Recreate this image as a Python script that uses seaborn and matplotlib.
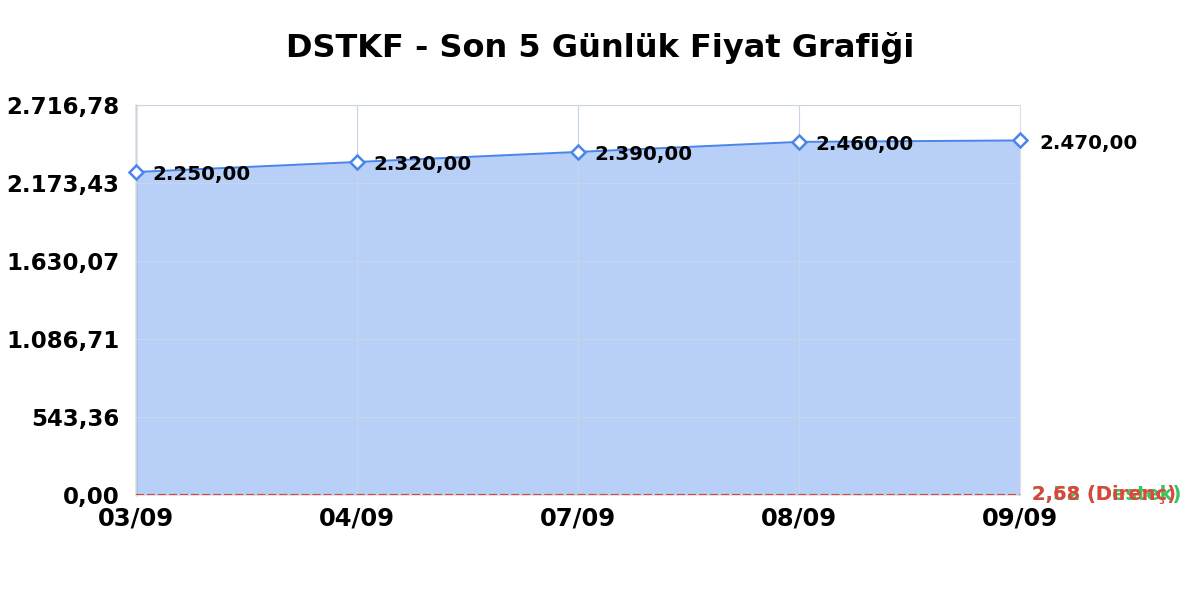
import numpy as np
import pandas as pd
import seaborn as sns
import matplotlib.pyplot as plt

# Price data (last 5 days)
dates = ['03/09', '04/09', '07/09', '08/09', '09/09']
prices = [2250.00, 2320.00, 2390.00, 2460.00, 2470.00]
support = 2.52
resistance = 2.68
y_top = 2716.785


def tr_fmt(v):
    s = f'{v:,.2f}'
    return s.replace(',', 'X').replace('.', ',').replace('X', '.')


df = pd.DataFrame({'idx': range(len(dates)), 'price': prices})

sns.set_style('white')
plt.rcParams['font.family'] = ['DejaVu Sans']
plt.rcParams['text.color'] = 'black'

fig = plt.figure(figsize=(12, 6), dpi=100)
ax = fig.add_axes([0.1133, 0.175, 0.7367, 0.65])

ticks = np.linspace(0, y_top, 6)

ax.fill_between(df['idx'], df['price'], 0, color='#b8d0f8', zorder=1)
sns.lineplot(data=df, x='idx', y='price', ax=ax, color='#4a86e8', linewidth=1.4,
             marker='D', markersize=7, markerfacecolor='white',
             markeredgecolor='#4a86e8', markeredgewidth=1.8, zorder=4, clip_on=False)

for i, p in enumerate(prices):
    dx = 14 if i == len(prices) - 1 else 12
    ax.annotate(tr_fmt(p), (i, p), xytext=(dx, -2), textcoords='offset points',
                ha='left', va='center', fontsize=14.3, fontweight='bold', color='black',
                zorder=5, annotation_clip=False)

# support / resistance lines
ax.axhline(support, color='#34c759', linestyle='--', linewidth=1.5, zorder=3)
ax.axhline(resistance, color='#e0443e', linestyle='--', linewidth=1.5, zorder=3)
ax.text(1.0136, support, f'{tr_fmt(support)} (Destek)', transform=ax.get_yaxis_transform(),
        color='#34c759', fontsize=14, fontweight='bold', va='center', ha='left')
ax.text(1.0136, resistance, f'{tr_fmt(resistance)} (Direnç)', transform=ax.get_yaxis_transform(),
        color='#e0443e', fontsize=14, fontweight='bold', va='center', ha='left')

ax.set_xlim(0, len(dates) - 1)
ax.set_ylim(0, y_top)
ax.set_xticks(range(len(dates)))
ax.set_xticklabels(dates, fontsize=17.5, fontweight='bold', color='black')
ax.set_yticks(ticks)
ax.set_yticklabels([tr_fmt(t) for t in ticks], fontsize=16.5, fontweight='bold', color='black')
ax.tick_params(axis='x', length=0, pad=8)
ax.tick_params(axis='y', length=0, pad=12)
ax.set_xlabel('')
ax.set_ylabel('')
ax.grid(True, color='#c8d4e8', linewidth=0.8, zorder=2)
ax.set_axisbelow(False)
for side in ['top', 'right', 'bottom']:
    ax.spines[side].set_color('#e0e0e0')
    ax.spines[side].set_linewidth(0.8)
ax.spines['left'].set_color('#777777')
ax.spines['left'].set_linewidth(1.0)

fig.text(0.5, 0.92, 'DSTKF - Son 5 Günlük Fiyat Grafiği', fontsize=23, fontweight='bold',
         ha='center', va='center', color='black')

fig.savefig('out.png', dpi=100)
